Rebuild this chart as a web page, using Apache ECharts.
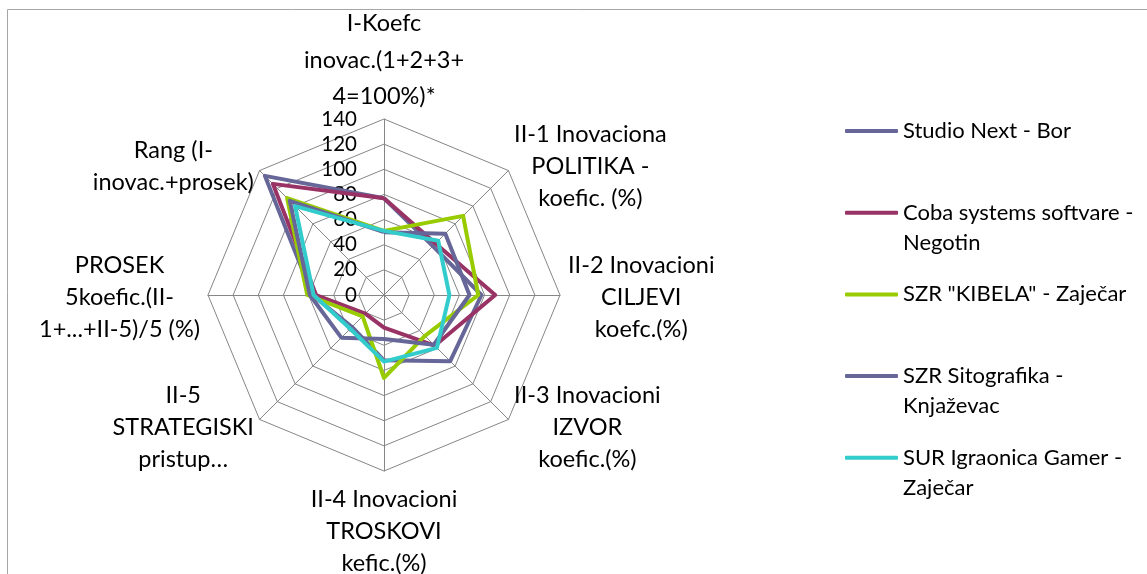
<!DOCTYPE html>
<html>
<head>
<meta charset="utf-8">
<script src="https://cdn.jsdelivr.net/npm/echarts@6/dist/echarts.min.js"></script>
<style>
  html, body { margin: 0; padding: 0; background: #fff; }
  #radar-chart { width: 1147px; height: 574px; }
</style>
</head>
<body>
<div id="radar-chart"></div>
<script>
// kriteriji, redom u smjeru kazaljke od vrha
var categories = [
  'I-Koefc\ninovac.(1+2+3+\n4=100%)*',
  'II-1 Inovaciona\nPOLITIKA -\nkoefic. (%)',
  'II-2 Inovacioni\nCILJEVI\nkoefc.(%)',
  'II-3 Inovacioni\nIZVOR\nkoefic.(%)',
  'II-4 Inovacioni\nTROSKOVI\nkefic.(%)',
  'II-5\nSTRATEGISKI\npristup…',
  'PROSEK\n5koefic.(II-\n1+...+II-5)/5 (%)',
  'Rang (I-\ninovac.+prosek)'
]
var axisMax = 140
var axisSplits = 7

var seriesNames = [
  'Studio Next - Bor',
  'Coba systems softvare - Negotin',
  'SZR "KIBELA" - Zaječar',
  'SZR Sitografika - Knjaževac',
  'SUR Igraonica Gamer - Zaječar'
]
var studioNext = [77, 55, 77.5, 74.5, 52, 36, 57, 134]
var cobaSystems = [77, 58, 88.5, 57, 26, 21, 54, 125]
var kibela = [51, 89, 75, 46, 66, 24, 61, 109]
var sitografika = [50, 69, 68, 56, 35, 48, 59, 106]
var gamer = [51, 61, 52, 59.5, 53, 38, 56, 100]

var seriesValues = [studioNext, cobaSystems, kibela, sitografika, gamer]
var colors = ['#666699', '#993366', '#99cc00', '#666699', '#33cccc']

var font = 'Lato'

// echarts slaze osi suprotno od kazaljke, pa okrecemo redoslijed
function radarOrder(arr) {
  return [arr[0]].concat(arr.slice(1).reverse())
}

var indicators = radarOrder(categories).map(function (name, i) {
  var ind = { name: name, min: 0, max: axisMax }
  if (i === 0) {
    // brojevi skale samo na gornjoj osi
    ind.axisLabel = {
      show: true,
      margin: 27,
      color: '#000',
      fontFamily: font,
      fontSize: 20.5
    }
    ind.nameGap = 4
    ind.nameTextStyle = { rich: { n: { lineHeight: 36.5 } } }
  }
  return ind
})

function legendText(name) {
  var lines = [name]
  if (name.length > 24) {
    var cut = name.lastIndexOf(' - ') + 2
    lines = [name.slice(0, cut), name.slice(cut + 1)]
  }
  return ' \n' + lines[0] + '\n' + (lines[1] || ' ')
}

var chart = echarts.init(document.getElementById('radar-chart'))

var option = {
  backgroundColor: '#fff',
  animation: false,
  color: colors,
  graphic: [{
    type: 'rect',
    silent: true,
    z: -10,
    shape: { x: 7.5, y: 9.5, width: 1160, height: 600 },
    style: { fill: 'none', stroke: '#a6a6a6', lineWidth: 1 }
  }],
  legend: seriesNames.map(function (name, i) {
    return {
      data: [name],
      left: 845,
      top: 131 - 45 + i * 81.7,
      orient: 'vertical',
      padding: 0,
      icon: 'roundRect',
      itemWidth: 53,
      itemHeight: 4,
      selectedMode: false,
      formatter: legendText,
      textStyle: {
        color: '#000',
        fontFamily: font,
        fontSize: 22,
        lineHeight: 30
      }
    }
  }),
  radar: {
    center: [384, 295],
    radius: 176,
    startAngle: 90,
    shape: 'polygon',
    splitNumber: axisSplits,
    nameGap: 8,
    indicator: indicators,
    axisName: {
      color: '#000',
      padding: [4, 0, 0, 0],
      formatter: function (name) {
        return name.split('\n').map(function (l) {
          return '{n|' + l + '}'
        }).join('\n')
      },
      rich: {
        n: {
          align: 'center',
          color: '#000',
          fontFamily: font,
          fontSize: 23.5,
          lineHeight: 32
        }
      }
    },
    axisLabel: { show: false },
    axisTick: { show: false },
    axisLine: { lineStyle: { color: '#868686', width: 1 } },
    splitLine: { lineStyle: { color: '#868686', width: 1 } },
    splitArea: { show: false }
  },
  series: seriesNames.map(function (name, i) {
    return {
      name: name,
      type: 'radar',
      symbol: 'none',
      silent: true,
      lineStyle: { width: 4, color: colors[i] },
      itemStyle: { color: colors[i] },
      data: [{ name: name, value: radarOrder(seriesValues[i]) }]
    }
  })
}

chart.setOption(option)
</script>
</body>
</html>
